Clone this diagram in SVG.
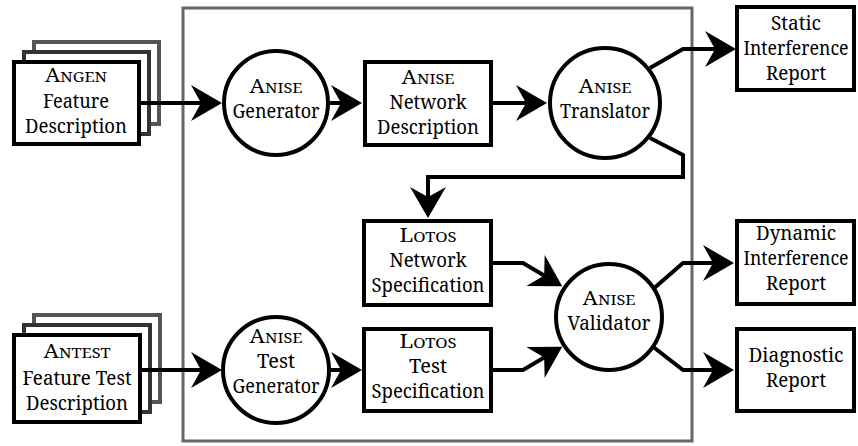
<svg xmlns="http://www.w3.org/2000/svg" width="858" height="446" viewBox="0 0 858 446">
<style>
text{font-family:"Noto Serif","DejaVu Serif","Liberation Serif",serif;font-size:20px;fill:#000;text-anchor:middle}
.sc{font-size:15px}
.sm{font-size:19px}
.box{fill:#fff;stroke:#000;stroke-width:4}
.circ{fill:#fff;stroke:#000;stroke-width:4}
.b2{fill:#fff;stroke:#333;stroke-width:4}
.b3{fill:#fff;stroke:#555;stroke-width:4}
.frame{fill:none;stroke:#666;stroke-width:3}
.conn{fill:none;stroke:#000;stroke-width:4;stroke-linejoin:miter;marker-end:url(#ah)}
</style>
<defs>
<marker id="ah" markerUnits="userSpaceOnUse" viewBox="-32 -19 34 38" markerWidth="34" markerHeight="38" refX="-20" refY="0" orient="auto">
<path d="M0,0 L-31,-18 L-21,0 L-31,18 Z" fill="#000"/>
</marker>
</defs>
<rect class="frame" x="183" y="8" width="509" height="433"/>
<g id="angen">
<rect class="b3" x="34" y="42" width="125" height="82"/>
<rect class="b2" x="24" y="52" width="125" height="82"/>
<rect class="box" x="14" y="62" width="125" height="82"/>
<text x="76" y="82" textLength="62" lengthAdjust="spacingAndGlyphs">A<tspan class="sc">NGEN</tspan></text>
<text x="76" y="108" textLength="66" lengthAdjust="spacingAndGlyphs">Feature</text>
<text x="76" y="133" textLength="102" lengthAdjust="spacingAndGlyphs">Description</text>
</g>
<g id="antest">
<rect class="b3" x="34" y="315" width="126" height="87"/>
<rect class="b2" x="24" y="325" width="126" height="87"/>
<rect class="box" x="14" y="335" width="126" height="87"/>
<text x="77" y="358" textLength="67" lengthAdjust="spacingAndGlyphs">A<tspan class="sc">NTEST</tspan></text>
<text x="77" y="385" textLength="109" lengthAdjust="spacingAndGlyphs">Feature Test</text>
<text x="77" y="410" textLength="102" lengthAdjust="spacingAndGlyphs">Description</text>
</g>
<g id="connectors">
<path class="conn" d="M139,103 L202,103"/>
<path class="conn" d="M328,103 L342,103"/>
<path class="conn" d="M491,103 L527,103"/>
<path class="conn" d="M650,68 L683,49 L716,49"/>
<path class="conn" d="M650,138 L683,155 L683,177 L428,177 L428,198"/>
<path class="conn" d="M140,370 L202,370"/>
<path class="conn" d="M328,370 L342,370"/>
<path class="conn" d="M491,263 L523,263 L545,276"/>
<path class="conn" d="M491,370 L523,370 L545,357"/>
<path class="conn" d="M652,290 L683,263 L714,263"/>
<path class="conn" d="M652,346 L683,370 L714,370"/>
</g>
<g id="anise-generator">
<circle class="circ" cx="276" cy="103" r="52"/>
<text x="276" y="93" textLength="53" lengthAdjust="spacingAndGlyphs">A<tspan class="sc">NISE</tspan></text>
<text x="276" y="118" textLength="87" lengthAdjust="spacingAndGlyphs">Generator</text>
</g>
<g id="anise-network-description">
<rect class="box" x="365" y="62" width="126" height="83"/>
<text x="428" y="84" textLength="53" lengthAdjust="spacingAndGlyphs">A<tspan class="sc">NISE</tspan></text>
<text x="428" y="109" textLength="77" lengthAdjust="spacingAndGlyphs">Network</text>
<text x="428" y="134" textLength="102" lengthAdjust="spacingAndGlyphs">Description</text>
</g>
<g id="anise-translator">
<circle class="circ" cx="605" cy="103" r="55"/>
<text x="605" y="93" textLength="53" lengthAdjust="spacingAndGlyphs">A<tspan class="sc">NISE</tspan></text>
<text x="605" y="118" textLength="90" lengthAdjust="spacingAndGlyphs">Translator</text>
</g>
<g id="static-report">
<rect class="box" x="737" y="7" width="117" height="83"/>
<text x="796" y="30" textLength="50" lengthAdjust="spacingAndGlyphs">Static</text>
<text class="sm" x="796" y="55" textLength="105" lengthAdjust="spacingAndGlyphs">Interference</text>
<text x="796" y="80" textLength="60" lengthAdjust="spacingAndGlyphs">Report</text>
</g>
<g id="lotos-network-spec">
<rect class="box" x="364" y="221" width="127" height="84"/>
<text x="428" y="242" textLength="57" lengthAdjust="spacingAndGlyphs">L<tspan class="sc">OTOS</tspan></text>
<text x="428" y="267" textLength="77" lengthAdjust="spacingAndGlyphs">Network</text>
<text x="428" y="292" textLength="113" lengthAdjust="spacingAndGlyphs">Specification</text>
</g>
<g id="lotos-test-spec">
<rect class="box" x="364" y="329" width="127" height="82"/>
<text x="428" y="348" textLength="57" lengthAdjust="spacingAndGlyphs">L<tspan class="sc">OTOS</tspan></text>
<text x="428" y="373" textLength="38" lengthAdjust="spacingAndGlyphs">Test</text>
<text x="428" y="398" textLength="113" lengthAdjust="spacingAndGlyphs">Specification</text>
</g>
<g id="anise-test-generator">
<circle class="circ" cx="276" cy="370" r="53"/>
<text x="276" y="343" textLength="53" lengthAdjust="spacingAndGlyphs">A<tspan class="sc">NISE</tspan></text>
<text x="276" y="368" textLength="38" lengthAdjust="spacingAndGlyphs">Test</text>
<text x="276" y="393" textLength="87" lengthAdjust="spacingAndGlyphs">Generator</text>
</g>
<g id="anise-validator">
<circle class="circ" cx="609" cy="317" r="53"/>
<text x="609" y="305" textLength="53" lengthAdjust="spacingAndGlyphs">A<tspan class="sc">NISE</tspan></text>
<text x="609" y="330" textLength="83" lengthAdjust="spacingAndGlyphs">Validator</text>
</g>
<g id="dynamic-report">
<rect class="box" x="737" y="221" width="117" height="83"/>
<text x="796" y="240" textLength="80" lengthAdjust="spacingAndGlyphs">Dynamic</text>
<text class="sm" x="796" y="265" textLength="105" lengthAdjust="spacingAndGlyphs">Interference</text>
<text x="796" y="290" textLength="60" lengthAdjust="spacingAndGlyphs">Report</text>
</g>
<g id="diagnostic-report">
<rect class="box" x="737" y="329" width="117" height="82"/>
<text x="796" y="362" textLength="95" lengthAdjust="spacingAndGlyphs">Diagnostic</text>
<text x="796" y="387" textLength="60" lengthAdjust="spacingAndGlyphs">Report</text>
</g>
</svg>
